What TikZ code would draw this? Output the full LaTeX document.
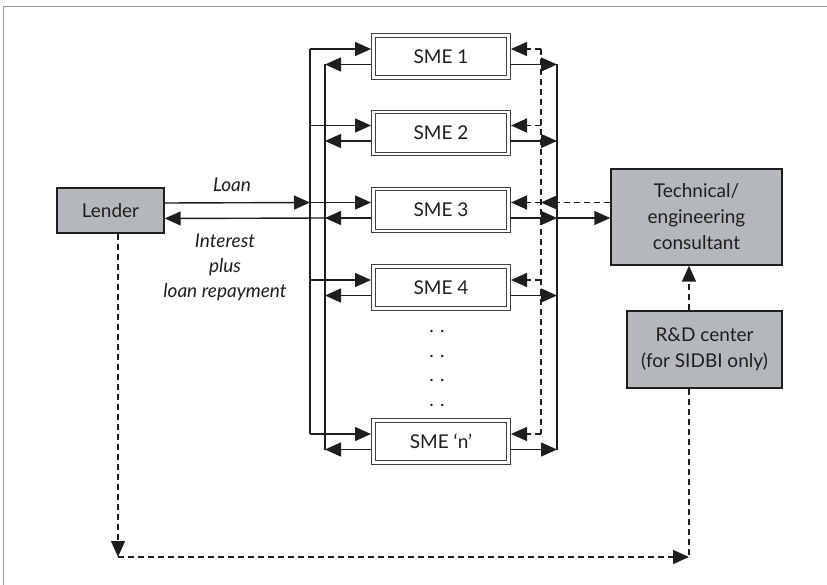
\documentclass[tikz,border=0pt]{standalone}
\usepackage{fontspec}
\setmainfont{Lato}
\usetikzlibrary{arrows.meta,calc}
\definecolor{ln}{HTML}{1E1E1E}
\definecolor{boxfill}{HTML}{B5B8BB}
\definecolor{frame}{HTML}{9A9A9A}
\begin{document}
\begin{tikzpicture}[x=1pt,y=-1pt,
  every node/.style={font=\fontsize{19}{26}\selectfont, text=ln},
  arr/.style={-{Triangle[length=16pt,width=14pt]}},
  conn/.style={draw=ln, line width=1.4pt},
  dsh/.style={dash pattern=on 6pt off 4pt},
  smebox/.style={draw=ln!85, line width=1.3pt, double=white, double distance=2.2pt,
    minimum width=135pt, minimum height=42pt, inner sep=0pt, outer sep=2.5pt},
  gbox/.style={draw=ln, fill=boxfill, line width=1.4pt, inner sep=0pt, align=center, outer sep=0.7pt},
  dots/.style={font=\fontsize{19}{20}\selectfont}
]
\useasboundingbox (0,0) rectangle (827,585);
\draw[frame, line width=1pt] (3,585) -- (3,7) -- (827,7);

% nodes
\node[gbox, minimum width=107pt, minimum height=45pt] (lender) at (110.5,210.5) {Lender};
\node[smebox] (s1) at (441,56.5) {SME 1};
\node[smebox] (s2) at (441,133) {SME 2};
\node[smebox] (s3) at (441,210) {SME 3};
\node[smebox] (s4) at (441,287.5) {SME 4};
\node[smebox] (sn) at (441,441.5) {SME ‘n’};
\node[gbox, minimum width=171pt, minimum height=96pt] (tech) at (696.5,217) {Technical/\\engineering\\consultant};
\node[gbox, minimum width=155pt, minimum height=77pt] (rd) at (704.5,349.5) {R\&D center\\(for SIDBI only)};

\node[dots] (d1) at (437,331) {. .};
\node[dots] (d2) at (437,356) {. .};
\node[dots] (d3) at (437,380) {. .};
\node[dots] (d4) at (437,405) {. .};

\node[anchor=base, font=\itshape\fontsize{19}{26}\selectfont] (loan) at (232,192) {Loan};
\node[align=center, font=\itshape\fontsize{19}{25}\selectfont] (int) at (225,267) {Interest\\plus\\loan repayment};

% bus coordinates
\coordinate (busA) at (310,0);
\coordinate (busB) at (325,0);
\coordinate (busC) at (541,0);
\coordinate (busD) at (557,0);

\foreach \s in {s1,s2,s3,s4,sn}{
  \coordinate (\s-wu) at ($(\s.west)+(0,-7.5)$);
  \coordinate (\s-wl) at ($(\s.west)+(0,8)$);
  \coordinate (\s-eu) at ($(\s.east)+(0,-7.5)$);
  \coordinate (\s-el) at ($(\s.east)+(0,8)$);
  \draw[conn,arr] (busA |- \s-wu) -- (\s-wu);
  \draw[conn,arr] (\s-wl) -- (busB |- \s-wl);
  \draw[conn,arr] (\s-el) -- (busD |- \s-el);
  \draw[conn,dsh,arr] (busC |- \s-eu) -- (\s-eu);
}
\draw[conn] (busA |- s1-wu) -- (busA |- sn-wu);
\draw[conn] (busB |- s1-wl) -- (busB |- sn-wl);
\draw[conn,dsh] (busC |- s1-eu) -- (busC |- sn-eu);
\draw[conn] (busD |- s1-el) -- (busD |- sn-el);

% lender links
\draw[conn,arr] ($(lender.east)+(0,-7.5)$) -- (busA |- s3-wu);
\draw[conn,arr] (busB |- s3-wl) -- ($(lender.east)+(0,8)$);

% consultant links
\draw[conn,arr] (busD |- s3-el) -- (tech.west |- s3-el);
\draw[conn,dsh,arr] (tech.west |- s3-eu) -- (busC |- s3-eu);

% R&D
\coordinate (rx) at (689,0);
\draw[conn,dsh,arr] (rx |- rd.north) -- (rx |- tech.south);

% bottom loop
\coordinate (lx) at (118,0);
\coordinate (bl) at (118,557);
\coordinate (br) at (689,557);
\draw[conn,dsh,arr] (lx |- lender.south) -- (bl);
\draw[conn,dsh,arr] (bl) -- (br);
\draw[conn,dsh] (br |- rd.south) -- (br);
\end{tikzpicture}
\end{document}
